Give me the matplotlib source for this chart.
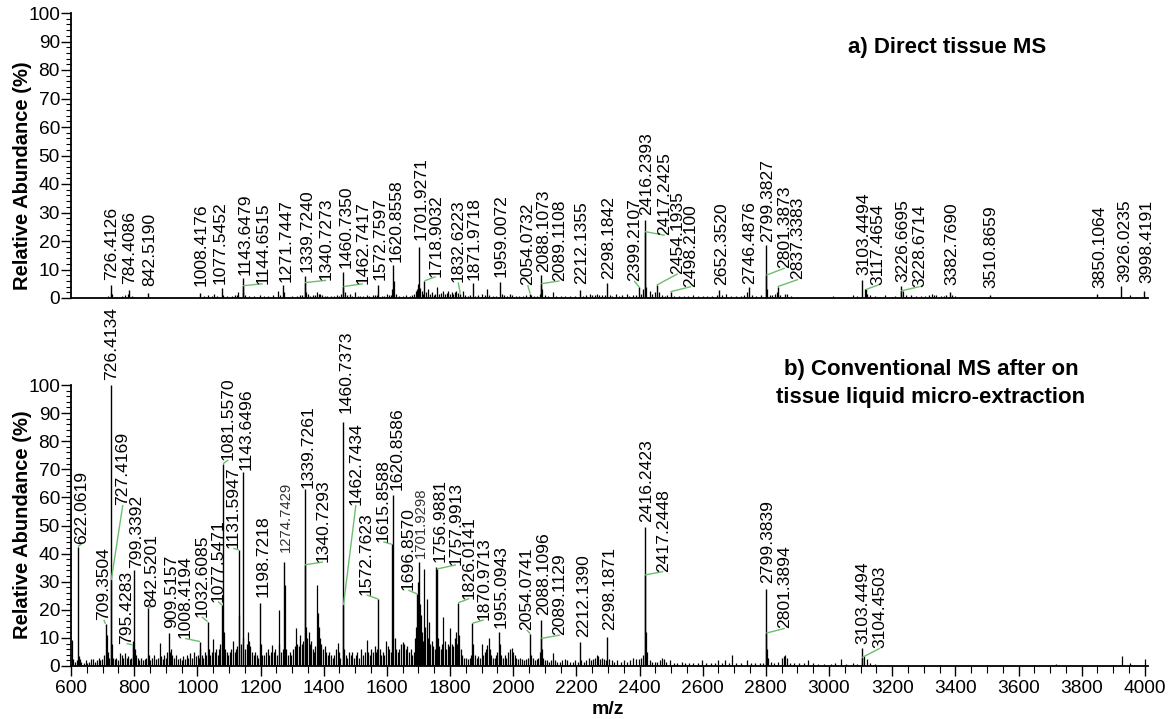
import matplotlib
matplotlib.use("Agg")
import matplotlib.pyplot as plt
from matplotlib.ticker import MultipleLocator

plt.rcParams['font.family'] = ['Liberation Sans', 'DejaVu Sans']

# ================= DATA =================
# ---- panel a) Direct tissue MS : labelled peaks (label text = m/z) ----
a_labels = ["726.4126", "784.4086", "842.5190", "1008.4176", "1077.5452",
            "1143.6479", "1144.6515", "1271.7447", "1339.7240", "1340.7273",
            "1460.7350", "1462.7417", "1572.7597", "1620.8558", "1701.9271",
            "1718.9032", "1832.6223", "1871.9718", "1959.0072", "2054.0732",
            "2088.1073", "2089.1108", "2212.1355", "2298.1842", "2399.2107",
            "2416.2393", "2417.2425", "2454.1935", "2498.2100", "2652.3520",
            "2746.4876", "2799.3827", "2801.3873", "2837.3383", "3103.4494",
            "3117.4654", "3226.6695", "3228.6714", "3382.7690", "3510.8659",
            "3850.1064", "3926.0235", "3998.4191"]
a_label_int = [4.6, 2.8, 1.9, 1.9, 3.4,
               6.9, 4.3, 4.6, 7.8, 5.4,
               9.0, 4.0, 4.6, 11.6, 18.0,
               6.0, 1.5, 5.1, 5.7, 1.5,
               8.0, 5.0, 2.8, 5.1, 3.8,
               27.4, 23.3, 4.5, 2.2, 2.8,
               3.9, 18.6, 8.0, 4.0, 6.3,
               3.0, 4.2, 2.5, 2.2, 1.0,
               1.3, 4.2, 2.6]

# ---- panel a) other (unlabelled) peaks: (m/z, relative abundance %) ----
a_peaks_600_1000 = [(610, 0.3), (640, 0.3), (672, 0.3), (700, 0.4), (718, 0.8), (728, 1.8),
                    (731, 1.5), (740, 0.5), (760, 0.8), (771, 1.2), (779, 1.5), (792, 0.8),
                    (800, 0.4), (830, 0.3), (870, 0.4), (900, 0.3), (940, 0.3), (971, 0.5),
                    (990, 0.4)]
a_peaks_1000_1500 = [(1020, 0.6), (1035, 1.0), (1045, 0.7), (1053, 1.5), (1062, 0.8), (1080, 1.2),
                     (1095, 0.6), (1110, 0.8), (1118, 1.0), (1125, 1.0), (1130, 2.0), (1146, 2.0),
                     (1152, 1.0), (1165, 0.8), (1180, 0.6), (1198, 1.0), (1212, 0.6), (1225, 0.6),
                     (1240, 1.0), (1256, 2.5), (1262, 1.2), (1275, 2.0), (1290, 0.5), (1300, 0.6),
                     (1314, 0.8), (1324, 1.0), (1330, 1.2), (1343, 2.0), (1351, 1.5), (1358, 0.8),
                     (1366, 1.0), (1372, 1.0), (1380, 2.0), (1384, 1.5), (1388, 1.5), (1396, 1.0),
                     (1404, 0.8), (1412, 0.8), (1422, 0.6), (1432, 0.6), (1442, 1.0), (1450, 0.8),
                     (1456, 1.5), (1467, 2.0), (1474, 1.0), (1483, 1.5), (1490, 0.8), (1499, 2.0)]
a_peaks_1500_2000 = [(1508, 0.8), (1516, 0.6), (1525, 0.8), (1536, 1.0), (1545, 0.6), (1555, 1.0),
                     (1563, 1.2), (1568, 1.0), (1585, 0.8), (1592, 0.8), (1599, 1.5), (1606, 1.0),
                     (1612, 1.2), (1616, 3.0), (1623, 6.0), (1628, 1.5), (1640, 0.8), (1650, 0.6),
                     (1662, 1.0), (1672, 0.8), (1680, 1.0), (1686, 1.5), (1692, 2.5), (1696, 3.0),
                     (1699, 5.0), (1705, 3.5), (1710, 2.5), (1714, 1.5), (1724, 2.0), (1731, 3.0),
                     (1736, 1.5), (1742, 2.0), (1748, 1.2), (1752, 1.5), (1758, 4.0), (1764, 1.5),
                     (1770, 1.8), (1779, 2.5), (1785, 1.5), (1790, 1.8), (1795, 2.5), (1800, 1.5),
                     (1805, 2.0), (1810, 1.5), (1815, 2.0), (1819, 2.5), (1825, 1.8), (1840, 2.5),
                     (1848, 1.0), (1856, 0.8), (1862, 1.0), (1880, 0.8), (1890, 1.0), (1900, 1.5),
                     (1910, 1.0), (1918, 3.0), (1925, 1.2), (1935, 0.8), (1945, 0.8), (1965, 1.5),
                     (1972, 1.0), (1980, 0.8), (1990, 1.5), (1997, 1.0)]
a_peaks_2000_2500 = [(2008, 0.8), (2018, 0.6), (2030, 0.8), (2040, 1.0), (2058, 1.0), (2066, 0.6),
                     (2075, 0.8), (2084, 1.5), (2092, 3.0), (2100, 1.0), (2110, 0.8), (2125, 2.0),
                     (2135, 0.6), (2150, 0.6), (2165, 0.8), (2180, 0.6), (2195, 0.8), (2220, 0.8),
                     (2230, 1.0), (2243, 1.5), (2250, 1.0), (2258, 1.2), (2264, 1.5), (2272, 1.0),
                     (2280, 1.2), (2290, 1.0), (2305, 1.0), (2312, 0.8), (2327, 1.5), (2335, 0.8),
                     (2345, 1.0), (2359, 1.5), (2368, 0.8), (2378, 1.0), (2388, 1.2), (2406, 1.5),
                     (2412, 3.0), (2422, 4.0), (2433, 2.5), (2440, 1.5), (2448, 2.0), (2462, 2.0),
                     (2470, 1.0), (2480, 0.8), (2488, 1.0)]
a_peaks_2500_3100 = [(2510, 0.8), (2525, 0.6), (2540, 0.6), (2555, 0.6), (2570, 1.0), (2585, 0.6),
                     (2600, 0.6), (2615, 0.6), (2630, 0.8), (2645, 1.0), (2662, 1.0), (2675, 1.5),
                     (2690, 0.8), (2705, 0.6), (2720, 0.8), (2730, 1.0), (2739, 2.0), (2755, 1.0),
                     (2770, 0.8), (2785, 1.0), (2804, 3.0), (2812, 1.0), (2820, 1.0), (2828, 1.5),
                     (2834, 2.0), (2845, 1.0), (2860, 1.5), (2866, 1.5), (2880, 0.6), (2900, 0.4),
                     (2925, 0.4), (2950, 0.4), (2975, 0.4), (3000, 0.5), (3013, 0.8), (3040, 0.4),
                     (3060, 0.4), (3076, 1.0), (3090, 0.6)]
a_peaks_3100_4000 = [(3113, 3.0), (3120, 1.5), (3130, 1.0), (3145, 0.6), (3160, 0.5), (3177, 1.0),
                     (3195, 0.5), (3210, 0.6), (3234, 2.5), (3245, 1.0), (3261, 1.0), (3275, 0.6),
                     (3290, 0.8), (3305, 0.8), (3318, 1.0), (3325, 1.5), (3332, 1.0), (3340, 1.0),
                     (3355, 0.6), (3365, 0.8), (3372, 1.0), (3390, 1.0), (3400, 0.6), (3420, 0.4),
                     (3440, 0.4), (3470, 0.4), (3540, 0.3), (3580, 0.4), (3636, 0.5), (3700, 0.3),
                     (3762, 0.5), (3800, 0.3), (3885, 0.3), (3952, 1.0), (3975, 0.4)]

# ---- panel b) Conventional MS after liquid micro-extraction : labelled peaks ----
b_labels = ["622.0619", "709.3504", "726.4134", "727.4169", "795.4283", "799.3392",
            "842.5201", "909.5157", "1008.4194", "1032.6085", "1077.5471", "1081.5570",
            "1131.5947", "1143.6496", "1198.7218", "1274.7429", "1339.7261", "1340.7293",
            "1460.7373", "1462.7434", "1572.7623", "1615.8588", "1620.8586", "1696.8570",
            "1701.9298", "1756.9881", "1757.9913", "1826.0141", "1870.9713", "1955.0943",
            "2054.0741", "2088.1096", "2089.1129", "2212.1390", "2298.1871", "2416.2423",
            "2417.2448", "2799.3839", "2801.3894", "3103.4494", "3104.4503"]
b_label_int = [42.5, 15.0, 100.0, 30.6, 7.5, 34.0,
               20.5, 11.6, 8.7, 15.8, 21.7, 72.0,
               41.3, 69.2, 22.3, 37.0, 63.0, 36.0,
               87.0, 21.7, 23.8, 43.3, 60.9, 25.6,
               37.1, 35.3, 34.5, 22.5, 15.2, 12.0,
               11.5, 16.4, 9.8, 8.7, 10.4, 49.6,
               32.4, 27.3, 11.7, 6.3, 3.0]

# ---- panel b) other (unlabelled) peaks ----
b_peaks_600_800 = [(603, 9.3), (607, 2.5), (612, 1.5), (618, 2), (625, 3.5), (628, 2.5), (633, 1.5),
                   (640, 1.2), (646, 2), (652, 1), (658, 1.5), (664, 2.5), (670, 2.5), (676, 1.5),
                   (681, 2), (688, 3), (693, 2), (698, 2.5), (703, 4), (713, 11), (716, 5), (720, 3),
                   (729, 8), (733, 3), (738, 2.5), (744, 3), (750, 2), (756, 4.5), (761, 4), (766, 3),
                   (771, 4.5), (776, 3), (781, 3.5), (786, 2.5), (790, 3), (797, 9), (803, 6), (806, 4)]
b_peaks_800_1000 = [(811, 3), (816, 2), (822, 3), (828, 2), (834, 2.5), (838, 3), (846, 4), (851, 2),
                    (857, 3), (862, 4), (868, 2.5), (874, 3), (882, 8.2), (886, 3.5), (891, 2.5),
                    (896, 4), (901, 3), (905, 5), (912, 5), (916, 6), (921, 4), (927, 3), (932, 4),
                    (938, 2.5), (944, 3), (950, 2), (955, 3.5), (961, 2.5), (967, 4), (972, 3),
                    (978, 4.5), (984, 3), (990, 5), (995, 3.5)]
b_peaks_1000_1200 = [(1001, 4), (1004, 3), (1010, 6), (1014, 4), (1019, 3), (1024, 5), (1028, 4),
                     (1036, 6), (1041, 4), (1046, 5), (1050, 9.6), (1055, 5), (1060, 6), (1065, 4),
                     (1070, 6), (1073, 8), (1084, 12), (1088, 6), (1093, 5), (1098, 4), (1103, 5),
                     (1108, 6), (1113, 9), (1118, 5), (1123, 6), (1127, 7), (1133, 18), (1137, 8),
                     (1146, 10), (1151, 6), (1156, 8), (1160, 12), (1164, 9), (1168, 7), (1173, 5),
                     (1178, 4), (1183, 5), (1188, 4), (1193, 3), (1201, 8), (1206, 4)]
b_peaks_1200_1450 = [(1212, 4), (1218, 5), (1223, 6), (1228, 4), (1233, 5), (1237, 7.5), (1242, 5),
                     (1247, 6), (1252, 4), (1257, 20), (1260, 8), (1266, 5), (1271, 6), (1276, 29),
                     (1281, 6), (1286, 4), (1292, 5), (1298, 4), (1303, 6), (1308, 7), (1313, 13.4),
                     (1317, 8), (1322, 7), (1326, 11), (1331, 8), (1335, 9), (1343, 14), (1347, 10),
                     (1352, 12), (1356, 8), (1361, 9), (1365, 6), (1370, 5), (1374, 7), (1378, 28.8),
                     (1381, 19), (1385, 14), (1389, 10), (1393, 8), (1398, 6), (1403, 7), (1408, 5),
                     (1413, 4), (1418, 5), (1423, 4), (1428, 3), (1434, 4), (1439, 6), (1444, 8.3),
                     (1448, 5), (1453, 3)]
b_peaks_1450_1700 = [(1465, 6), (1470, 4), (1475, 3), (1480, 5), (1486, 4), (1491, 5), (1496, 3),
                     (1501, 4), (1506, 5), (1512, 3), (1518, 6), (1524, 4), (1530, 5), (1536, 9.3),
                     (1541, 5), (1546, 4), (1551, 6), (1556, 5), (1561, 7), (1565, 5), (1569, 6),
                     (1577, 6), (1582, 4), (1587, 5), (1592, 4), (1598, 9), (1603, 7), (1608, 6),
                     (1612, 5), (1625, 10), (1629, 6), (1634, 5), (1640, 6), (1645, 8), (1650, 8.5),
                     (1655, 8), (1660, 6), (1665, 7), (1670, 5), (1676, 6), (1681, 4), (1686, 5),
                     (1690, 10), (1693, 14)]
b_peaks_1700_1900 = [(1699, 30), (1704, 22), (1707, 18), (1710, 12), (1713, 9), (1718, 34.4),
                     (1722, 14), (1726, 24), (1730, 10), (1734, 15.8), (1738, 8), (1743, 9),
                     (1747, 7), (1751, 6), (1761, 10), (1765, 7), (1770, 6), (1775, 8), (1779, 17.6),
                     (1783, 9), (1788, 6), (1793, 8), (1797, 7), (1800, 13.4), (1805, 8), (1810, 7),
                     (1815, 10), (1819, 12), (1822, 8), (1830, 11), (1834, 6), (1839, 4), (1845, 3),
                     (1850, 3), (1856, 2.5), (1862, 3), (1866, 4), (1874, 8), (1879, 4), (1884, 3),
                     (1890, 3.5), (1895, 3)]
b_peaks_1900_2110 = [(1900, 8), (1905, 4), (1910, 5), (1914, 6), (1918, 7.5), (1922, 10), (1926, 6),
                     (1931, 4), (1936, 3), (1941, 3), (1946, 4), (1950, 5), (1959, 8), (1963, 4),
                     (1968, 3), (1973, 4), (1978, 3), (1984, 5), (1990, 6), (1995, 6.5), (2000, 5),
                     (2005, 4), (2010, 3), (2016, 2.5), (2022, 3), (2028, 2.5), (2034, 2), (2040, 2.5),
                     (2046, 3), (2058, 4), (2063, 3), (2068, 2), (2074, 2.5), (2080, 3), (2084, 5),
                     (2092, 6), (2096, 3), (2102, 2), (2108, 2)]
b_peaks_2110_2800 = [(2114, 1.5), (2120, 2), (2125, 4.6), (2132, 2), (2140, 1.5), (2148, 1.5),
                     (2156, 2), (2164, 2.5), (2172, 2), (2180, 1.5), (2188, 1.5), (2196, 2),
                     (2204, 1.5), (2216, 2), (2224, 1.5), (2232, 2), (2240, 3), (2246, 2), (2252, 2.5),
                     (2258, 3), (2264, 4), (2270, 3.5), (2276, 2.5), (2282, 3), (2288, 2.5), (2294, 2),
                     (2304, 2.5), (2312, 2), (2320, 1.5), (2330, 2), (2340, 1.5), (2350, 2),
                     (2360, 1.5), (2370, 2), (2380, 3), (2390, 2.5), (2398, 2.5), (2405, 3), (2411, 4),
                     (2419, 12), (2424, 5), (2432, 2), (2440, 1.5), (2448, 1.5), (2456, 1.5),
                     (2465, 2), (2470, 3), (2476, 2.5), (2484, 1.5), (2496, 2), (2510, 1), (2520, 1),
                     (2533, 1.5), (2545, 1), (2558, 1), (2570, 1), (2585, 1), (2597, 2), (2610, 1),
                     (2625, 1), (2638, 1), (2649, 2), (2660, 1), (2670, 2), (2682, 1), (2694, 4),
                     (2706, 1), (2720, 1), (2739, 2), (2752, 1), (2765, 1), (2780, 1), (2790, 1)]
b_peaks_2800_4000 = [(2803, 6), (2808, 3), (2815, 1.5), (2825, 1), (2838, 1.5), (2852, 3),
                     (2857, 3.5), (2862, 4), (2868, 3), (2878, 1), (2890, 1), (2905, 1), (2920, 1),
                     (2934, 2), (2948, 1), (2965, 0.8), (2985, 0.8), (3005, 0.8), (3020, 1),
                     (3039, 2.5), (3055, 0.8), (3076, 1), (3090, 0.8), (3112, 3.5), (3119, 2.5),
                     (3130, 1), (3145, 0.8), (3160, 0.5), (3180, 0.5), (3200, 0.5), (3250, 0.5),
                     (3300, 0.4), (3350, 0.4), (3420, 0.4), (3500, 0.4), (3580, 0.4), (3650, 0.4),
                     (3720, 0.6), (3780, 0.4), (3850, 0.4), (3900, 0.4), (3928, 3.5), (3954, 1),
                     (3999, 2.5)]

panel_a_title = "a) Direct tissue MS"
panel_b_title = ["b) Conventional MS after on", "tissue liquid micro-extraction"]
y_label = "Relative Abundance (%)"
x_label = "m/z"

# ================= ANNOTATION LAYOUT =================
# label anchor (m/z, %) of each label bottom, and whether a green leader is drawn
a_label_x = [728, 787, 848, 1013, 1072,
             1150, 1207, 1280, 1347, 1408,
             1471, 1524, 1578, 1630, 1710,
             1755, 1826, 1877, 1963, 2046,
             2095, 2147, 2217, 2301, 2383,
             2422, 2480, 2521, 2563, 2660,
             2749, 2807, 2860, 2902, 3111,
             3156, 3234, 3287, 3388, 3514,
             3857, 3936, 4005]
a_label_y = [6.2, 5.0, 4.3, 4.3, 5.0,
             8.2, 5.0, 5.7, 9.2, 6.2,
             10.4, 5.0, 6.2, 12.7, 20.5,
             7.5, 5.5, 6.2, 7.3, 4.5,
             9.2, 6.0, 5.0, 6.5, 6.0,
             29.0, 22.0, 8.5, 4.0, 4.5,
             5.0, 19.8, 10.5, 6.5, 8.0,
             4.6, 5.7, 4.0, 4.6, 3.5,
             3.5, 5.7, 5.2]
a_leader = [0, 0, 0, 0, 0,
            0, 1, 0, 0, 1,
            0, 1, 0, 0, 0,
            1, 1, 0, 0, 1,
            0, 1, 0, 0, 1,
            0, 1, 1, 1, 0,
            0, 0, 1, 1, 0,
            1, 0, 1, 0, 0,
            0, 0, 0]

b_label_x = [634, 704, 729, 764, 776, 808,
             855, 918, 961, 1014, 1066, 1098,
             1114, 1156, 1208, 1280, 1351, 1398,
             1472, 1502, 1536, 1589, 1631, 1668,
             1707, 1768, 1819, 1861, 1907, 1963,
             2043, 2097, 2148, 2222, 2306, 2422,
             2475, 2807, 2860, 3108, 3161]
b_label_y = [43.5, 16.4, 101.8, 57.3, 8.0, 35.0,
             21.1, 13.5, 9.8, 17.5, 22.9, 73.3,
             41.9, 69.8, 24.7, 40.7, 63.2, 37.0,
             89.9, 57.3, 25.3, 44.2, 62.6, 27.0,
             38.3, 37.1, 36.0, 24.0, 16.4, 13.4,
             12.8, 18.1, 11.0, 10.4, 12.8, 51.4,
             33.6, 29.4, 13.4, 8.0, 6.3]
b_leader = [1, 1, 0, 1, 1, 0,
            1, 0, 1, 1, 1, 1,
            1, 0, 0, 0, 0, 1,
            0, 1, 1, 1, 0, 1,
            0, 0, 1, 1, 1, 0,
            1, 0, 1, 0, 0, 0,
            1, 0, 1, 0, 1]
b_small_font = ["1274.7429", "1701.9298"]

# ================= PLOTTING =================
W, H = 1173, 719
fig = plt.figure(figsize=(W / 100, H / 100), dpi=100)
ax_a = fig.add_axes([71 / W, (H - 298) / H, 1077 / W, 285 / H])
ax_b = fig.add_axes([71 / W, (H - 666) / H, 1077 / W, 281 / H])

GREEN = '#6cbf6c'
TICK_FS = 13.8
LABEL_FS = 12.6


def draw_panel(ax, labels, label_int, others, lx, ly, leader, small=()):
    for group in others:
        mz = [p[0] for p in group]
        it = [p[1] for p in group]
        ax.vlines(mz, 0, it, colors='black', linewidth=0.9)
    mzl = [float(t) for t in labels]
    ax.vlines(mzl, 0, label_int, colors='black', linewidth=1.0)
    for t, m, h, x, y, ld in zip(labels, mzl, label_int, lx, ly, leader):
        if ld:
            ax.plot([m, x], [h, y], color=GREEN, linewidth=1.0, clip_on=False,
                    solid_capstyle='butt')
        fs = LABEL_FS * 0.85 if t in small else LABEL_FS
        col = '#333333' if t in small else 'black'
        ax.text(x, y, t, rotation=90, ha='center', va='bottom', fontsize=fs,
                color=col, clip_on=False)
    ax.set_xlim(600, 4010)
    ax.set_ylim(0, 100)
    ax.spines['top'].set_visible(False)
    ax.spines['right'].set_visible(False)
    for s in ('left', 'bottom'):
        ax.spines[s].set_linewidth(1.3)
    ax.yaxis.set_major_locator(MultipleLocator(10))
    ax.yaxis.set_minor_locator(MultipleLocator(2))
    ax.tick_params(axis='y', which='major', length=7, width=1.0, labelsize=TICK_FS, pad=1)
    ax.tick_params(axis='y', which='minor', length=3.5, width=0.8)
    ax.patch.set_alpha(0)


draw_panel(ax_a, a_labels, a_label_int,
           [a_peaks_600_1000, a_peaks_1000_1500, a_peaks_1500_2000,
            a_peaks_2000_2500, a_peaks_2500_3100, a_peaks_3100_4000],
           a_label_x, a_label_y, a_leader)
ax_a.tick_params(axis='x', which='both', bottom=False, labelbottom=False)

draw_panel(ax_b, b_labels, b_label_int,
           [b_peaks_600_800, b_peaks_800_1000, b_peaks_1000_1200, b_peaks_1200_1450,
            b_peaks_1450_1700, b_peaks_1700_1900, b_peaks_1900_2110, b_peaks_2110_2800,
            b_peaks_2800_4000],
           b_label_x, b_label_y, b_leader, small=b_small_font)
ax_b.set_xticks(list(range(600, 4001, 200)))
ax_b.xaxis.set_minor_locator(MultipleLocator(50))
ax_b.tick_params(axis='x', which='major', length=7, width=1.0, labelsize=TICK_FS, pad=3)
ax_b.tick_params(axis='x', which='minor', length=5, width=0.8)

# axis labels and titles
fig.text(23 / W, 1 - 176 / H, y_label, rotation=90, ha='center', va='center',
         fontsize=14.5, fontweight='bold')
fig.text(23 / W, 1 - 525 / H, y_label, rotation=90, ha='center', va='center',
         fontsize=14.5, fontweight='bold')
fig.text(608 / W, 1 - 710 / H, x_label, ha='center', va='center', fontsize=14,
         fontweight='bold')
fig.text(947 / W, 1 - 47 / H, panel_a_title, ha='center', va='center', fontsize=16,
         fontweight='bold')
fig.text(931 / W, 1 - 370 / H, panel_b_title[0], ha='center', va='center', fontsize=16,
         fontweight='bold')
fig.text(931 / W, 1 - 397 / H, panel_b_title[1], ha='center', va='center', fontsize=16,
         fontweight='bold')

fig.savefig('out.png', dpi=100, facecolor='white')
